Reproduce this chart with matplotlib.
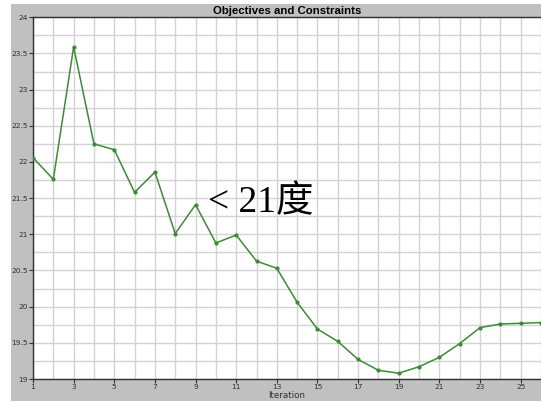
import matplotlib
matplotlib.use('Agg')
import matplotlib.pyplot as plt
import matplotlib.patches as mpatches
import numpy as np

# objective value per optimisation iteration
ITERATIONS = list(range(1, 27))
OBJECTIVE = [22.06, 21.76, 23.59, 22.25, 22.17, 21.58, 21.86, 21.01, 21.41, 20.88,
             20.99, 20.63, 20.53, 20.06, 19.69, 19.52, 19.27, 19.12, 19.08, 19.17,
             19.30, 19.49, 19.71, 19.76, 19.77, 19.78]

X_TICKS = list(range(1, 27, 2))
Y_TICKS = [19, 19.5, 20, 20.5, 21, 21.5, 22, 22.5, 23, 23.5, 24]

PANEL_GRAY = '#c0c0c0'
GRID_GRAY = '#d3d3d3'
LINE_GREEN = '#3d8b37'
DARK = '#303030'

fig = plt.figure(figsize=(5.41, 4.01), dpi=100, facecolor='white')

# gray panel behind the plot and title bar
panel = mpatches.Rectangle((11 / 541, 0), 1 - 11 / 541, 1 - 4 / 401,
                           transform=fig.transFigure, facecolor=PANEL_GRAY,
                           edgecolor='none', zorder=-10)
fig.add_artist(panel)

ax = fig.add_axes([33 / 541, 1 - 379 / 401, 1 - 33 / 541, (379 - 17.3) / 401])
ax.set_zorder(1)
ax.set_facecolor('white')

ax.plot(ITERATIONS, OBJECTIVE, '-', color=LINE_GREEN, linewidth=1.1,
        marker='o', markersize=2.0, markerfacecolor=LINE_GREEN,
        markeredgecolor=LINE_GREEN, zorder=3)

ax.set_xlim(1, 25.9)
ax.set_ylim(19, 24)

ax.set_xticks(X_TICKS)
ax.set_xticks(range(1, 27), minor=True)
ax.set_yticks(Y_TICKS)
ax.set_yticks(np.arange(19, 24.01, 0.25), minor=True)
ax.set_yticklabels([f'{v:g}' for v in Y_TICKS])

ax.grid(True, which='both', color=GRID_GRAY, linewidth=1.0)
ax.set_axisbelow(True)

ax.tick_params(axis='both', which='major', labelsize=5.3, labelcolor=DARK,
               color=DARK, length=3, width=0.8, pad=0.8)
ax.tick_params(axis='both', which='minor', length=0)

for side in ['left', 'bottom', 'top']:
    ax.spines[side].set_color(DARK)
    ax.spines[side].set_linewidth(1.0)
ax.spines['right'].set_visible(False)

fig.text(287 / 541, 1 - 396 / 401, 'Iteration', ha='center', va='center',
         fontsize=6.3, color=DARK)

fig.text(287 / 541, 1 - 10.5 / 401, 'Objectives and Constraints', ha='center', va='center',
         fontsize=8.2, fontweight='bold', color='black', family='Liberation Sans')

ax.text(9.6, 21.3, '< 21度', fontsize=27, color='black', ha='left', va='baseline',
        family=['Liberation Serif', 'Noto Sans CJK SC'], zorder=4)

fig.savefig('out.png', dpi=100, facecolor='white')
